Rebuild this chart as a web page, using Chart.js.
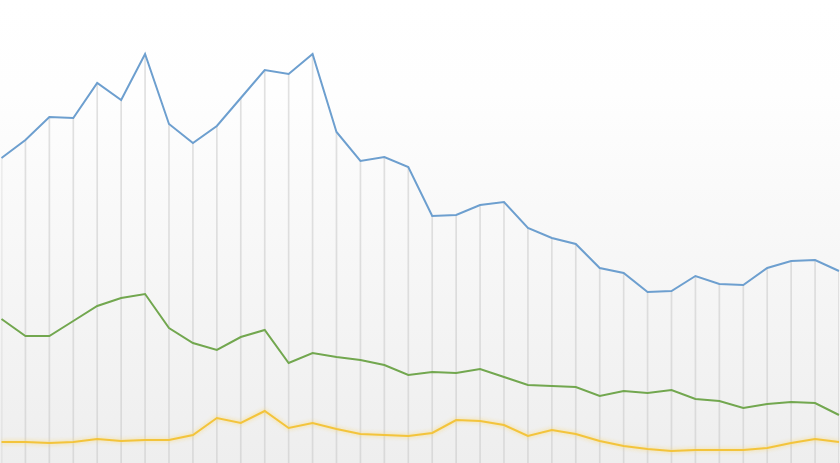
<!DOCTYPE html>
<html>
<head>
<meta charset="utf-8">
<script src="https://cdn.jsdelivr.net/npm/chart.js@4/dist/chart.umd.min.js"></script>
<style>
  html, body { margin: 0; padding: 0; background: #fff; }
  #wrap { width: 840px; height: 463px; position: relative; }
</style>
</head>
<body>
<div id="wrap"><canvas id="chart"></canvas></div>
<script>
// 36 periods, no labels shown in the picture
const periods = Array.from({ length: 36 }, (_, i) => String(i + 1));

const blueValues = [305, 323, 346, 345, 380, 363, 409, 339, 320, 337, 365, 393,
  389, 409, 331, 302, 306, 296, 247, 248, 258, 261, 235, 225,
  219, 195, 190, 171, 172, 187, 179, 178, 195, 202, 203, 192];

const greenValues = [144, 127, 127, 142, 157, 165, 169, 135, 120, 113, 126, 133,
  100, 110, 106, 103, 98, 88, 91, 90, 94, 86, 78, 77,
  76, 67, 72, 70, 73, 64, 62, 55, 59, 61, 60, 48];

const yellowValues = [21, 21, 20, 21, 24, 22, 23, 23, 28, 45, 40, 52,
  35, 40, 34, 29, 28, 27, 30, 43, 42, 38, 27, 33,
  29, 22, 17, 14, 12, 13, 13, 13, 15, 20, 24, 21];

const yMin = 0;
const yMax = 463;

// soft gradient behind the plot + glow on the yellow line
const bgPlugin = {
  id: 'bg',
  beforeDraw(chart) {
    const { ctx, width, height } = chart;
    const g = ctx.createLinearGradient(0, 0, 0, height);
    g.addColorStop(0, '#ffffff');
    g.addColorStop(0.2, '#fefefe');
    g.addColorStop(1, '#eeeeee');
    ctx.save();
    ctx.fillStyle = g;
    ctx.fillRect(0, 0, width, height);
    ctx.restore();
  },
  beforeDatasetDraw(chart, args) {
    if (args.meta.label === 'yellow') {
      chart.ctx.save();
      chart.ctx.shadowColor = 'rgba(250, 215, 110, 0.9)';
      chart.ctx.shadowBlur = 4;
    }
  },
  afterDatasetDraw(chart, args) {
    if (args.meta.label === 'yellow') chart.ctx.restore();
  }
};

new Chart(document.getElementById('chart'), {
  type: 'line',
  data: {
    labels: periods,
    datasets: [
      {
        label: 'blue',
        data: blueValues,
        borderColor: '#6d9fcf',
        borderWidth: 2,
        tension: 0,
        pointRadius: 0,
        order: 1
      },
      {
        label: 'green',
        data: greenValues,
        borderColor: '#72a74f',
        borderWidth: 2,
        tension: 0,
        pointRadius: 0,
        order: 2
      },
      {
        label: 'yellow',
        data: yellowValues,
        borderColor: '#f3c43c',
        borderWidth: 2,
        tension: 0,
        pointRadius: 0,
        order: 3
      },
      {
        // drop lines from the blue line down to the floor
        type: 'bar',
        label: 'drop',
        data: blueValues,
        backgroundColor: 'rgba(200, 200, 200, 0.55)',
        barThickness: 1,
        order: 10
      }
    ]
  },
  options: {
    responsive: true,
    maintainAspectRatio: false,
    animation: false,
    layout: { padding: { left: 1.5, right: 1, top: 0, bottom: 0 } },
    plugins: {
      legend: { display: false },
      tooltip: { enabled: false }
    },
    scales: {
      x: { display: false, offset: false, grid: { display: false } },
      y: { display: false, min: yMin, max: yMax, grid: { display: false } }
    }
  },
  plugins: [bgPlugin]
});
</script>
</body>
</html>
